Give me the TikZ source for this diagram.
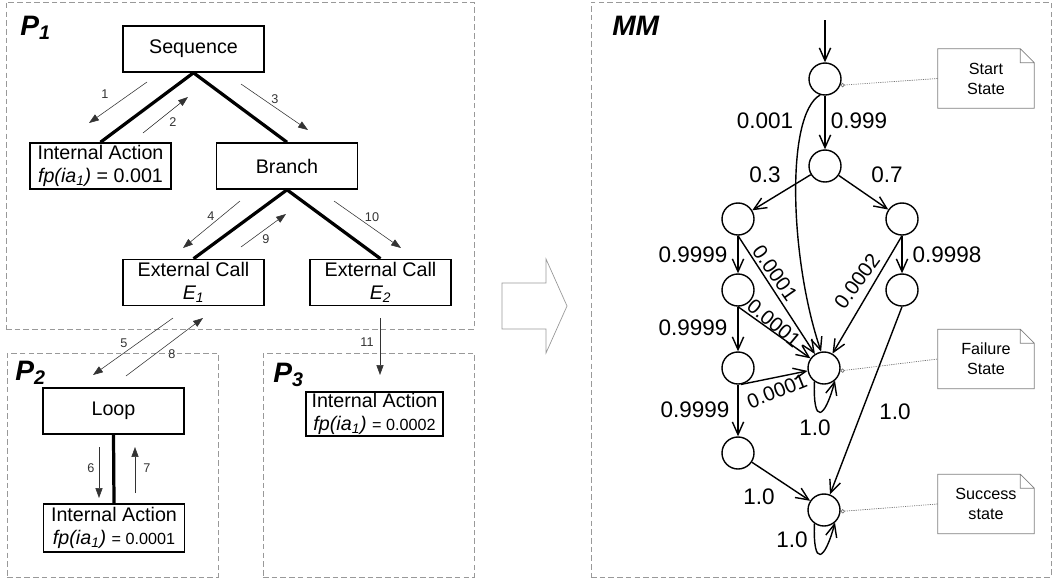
\documentclass[tikz,border=0pt]{standalone}
\usepackage{fontspec}
\setmainfont{Liberation Sans}
\usetikzlibrary{arrows.meta}

\begin{document}
\begin{tikzpicture}[
  x=0.025cm, y=-0.025cm,
  font=\fontsize{14}{16}\selectfont,
  zona/.style={rectangle, draw=black!40, dash pattern=on 4pt off 2.2pt,
               line width=0.5pt, inner sep=0pt},
  caja/.style={rectangle, draw, line width=1.1pt, minimum width=3.525cm,
               minimum height=1.15cm, inner sep=0pt, align=center},
  rama/.style={line width=2.3pt},
  flow/.style={-{Triangle[length=7pt,width=5pt]}, line width=0.4pt, black!80},
  num/.style={font=\fontsize{9}{10}\selectfont, inner sep=1pt},
  plab/.style={font=\fontsize{20}{22}\selectfont\bfseries\itshape,
               anchor=base west, inner sep=0pt},
  state/.style={circle, draw, line width=1pt, minimum size=0.8cm, inner sep=0pt},
  trans/.style={-{Straight Barb[length=9pt,width=8pt]}, line width=1pt},
  prob/.style={font=\fontsize{16}{18}\selectfont, inner sep=1pt},
  rprob/.style={font=\fontsize{14.5}{16}\selectfont, inner sep=0pt},
  nota/.style={minimum width=2.4cm, minimum height=1.475cm, inner sep=0pt,
               align=center, font=\fontsize{11.5}{14.2}\selectfont},
  pin/.style={{Circle[open,length=3pt]}-, black!55, line width=0.5pt,
              dash pattern=on 0.8pt off 0.8pt},
  doblez/.style={black!50, line width=0.5pt}
]
\useasboundingbox (0,0) rectangle (1052,579);

% --- P1 ---
\node[zona, minimum width=11.7cm, minimum height=8.175cm] (p1) at (240,165.5) {};
\node[plab] (p1lab) at (20,35) {P\textsubscript{1}};
\node[caja] (seq) at (193.5,49) {Sequence};
\node[caja] (ia1) at (100.5,166) {Internal Action\\\textit{fp(ia\textsubscript{1})} = 0.001};
\node[caja] (br) at (287,166) {Branch};
\node[caja] (ec1) at (193.5,282.5) {External Call\\\textit{E\textsubscript{1}}};
\node[caja] (ec2) at (380.5,282.5) {External Call\\\textit{E\textsubscript{2}}};
\draw[rama] (seq.south) -- (ia1.north);
\draw[rama] (seq.south) -- (br.north);
\draw[rama] (br.south) -- (ec1.north);
\draw[rama] (br.south) -- (ec2.north);

% --- P2 ---
\node[zona, minimum width=5.275cm, minimum height=5.6cm] (p2) at (112.5,465) {};
\node[plab] (p2lab) at (15,380) {P\textsubscript{2}};
\node[caja] (lp) at (113.5,411) {Loop};
\node[caja, minimum height=1.2cm] (ia2) at (114,528)
      {Internal Action\\\textit{fp(ia\textsubscript{1})} {\fontsize{11.5}{16}\selectfont = 0.0001}};
\draw[rama] (lp.south) -- (ia2.north);

% --- P3 ---
\node[zona, minimum width=5.275cm, minimum height=5.6cm] (p3) at (368.5,465) {};
\node[plab] (p3lab) at (273,382) {P\textsubscript{3}};
\node[caja, minimum width=3.425cm, minimum height=1.1cm] (ia3) at (374.5,414)
      {Internal Action\\\textit{fp(ia\textsubscript{1})} {\fontsize{11.5}{16}\selectfont = 0.0002}};

% --- llamadas y retornos ---
\coordinate (m1a) at (147,82);   \coordinate (m1b) at (89,123);
\coordinate (m2a) at (143,133);  \coordinate (m2b) at (188,97);
\coordinate (m3a) at (241,84);   \coordinate (m3b) at (308,130);
\coordinate (m4a) at (240,201);  \coordinate (m4b) at (183,248);
\coordinate (m5a) at (173,318);  \coordinate (m5b) at (93,375);
\coordinate (m6a) at (99,447);   \coordinate (m6b) at (99,498);
\coordinate (m7a) at (135,493);  \coordinate (m7b) at (135,447);
\coordinate (m8a) at (126,376);  \coordinate (m8b) at (203,318);
\coordinate (m9a) at (241,247);  \coordinate (m9b) at (286,214);
\coordinate (m10a) at (334,201); \coordinate (m10b) at (401,248);
\coordinate (m11a) at (380,318); \coordinate (m11b) at (380,375);
\draw[flow] (m1a) -- (m1b) node[num] at (105,94) {1};
\draw[flow] (m2a) -- (m2b) node[num] at (173,122) {2};
\draw[flow] (m3a) -- (m3b) node[num] at (275,99) {3};
\draw[flow] (m4a) -- (m4b) node[num] at (211,216) {4};
\draw[flow] (m5a) -- (m5b) node[num] at (124,343) {5};
\draw[flow] (m6a) -- (m6b) node[num] at (91,468) {6};
\draw[flow] (m7a) -- (m7b) node[num] at (147,468) {7};
\draw[flow] (m8a) -- (m8b) node[num] at (172,354) {8};
\draw[flow] (m9a) -- (m9b) node[num] at (266,239) {9};
\draw[flow] (m10a) -- (m10b) node[num] at (372,217) {10};
\draw[flow] (m11a) -- (m11b) node[num] at (367,342) {11};

% --- transformacion ---
\draw[black!40, line width=0.5pt] (502,283) -- (546,283) -- (546,259) -- (567,306)
      -- (546,353) -- (546,329) -- (502,329) -- cycle;

% --- MM ---
\node[zona, minimum width=11.5cm, minimum height=14.375cm] (mm) at (821,289.5) {};
\node[plab] (mmlab) at (612,35) {MM};
\node[state] (s0) at (825,79) {};
\node[state] (s1) at (825,166) {};
\node[state] (s2) at (738,219) {};
\node[state] (s3) at (902,219) {};
\node[state] (s4) at (738,290) {};
\node[state] (s5) at (902,290) {};
\node[state] (s6) at (738,368) {};
\node[state] (fail) at (824,368) {};
\node[state] (s7) at (738,453) {};
\node[state] (succ) at (824,510) {};
\coordinate (init) at (825,20);

\draw[trans] (init) -- (s0);
\draw[trans] (s0) -- (s1);
\draw[trans] (s0.253) .. controls (785,115) and (790,260) .. (fail.100);
\draw[trans] (s1) -- (s2);
\draw[trans] (s1) -- (s3);
\draw[trans] (s2.south) -- (s4.north);
\draw[trans] (s2.south) -- (fail);
\draw[trans] (s3.south) -- (s5.north);
\draw[trans] (s3.south) -- (fail);
\draw[trans] (s4.south) -- (s6.north);
\draw[trans] (s4.south) -- (fail);
\draw[trans] (s6.south) -- (s7.north);
\draw[trans] (s6.-80) -- (fail.190);
\draw[trans] (s5.south) -- (succ);
\draw[trans] (s7) -- (succ);
\draw[trans] (fail.235) .. controls +(268:1.1cm) and +(255:1cm) .. (fail.311);
\draw[trans] (succ.235) .. controls +(268:1.1cm) and +(255:1cm) .. (succ.311);

\node[prob] (l1) at (765,121) {0.001};
\node[prob] (l2) at (859,121) {0.999};
\node[prob] (l3) at (765,175) {0.3};
\node[prob] (l4) at (887,175) {0.7};
\node[prob] (l5) at (693,255) {0.9999};
\node[prob] (l6) at (947,255) {0.9998};
\node[prob] (l7) at (693,328) {0.9999};
\node[prob] (l8) at (695,410) {0.9999};
\node[prob] (l9) at (815,428) {1.0};
\node[prob] (l10) at (895,412) {1.0};
\node[prob] (l11) at (759,497) {1.0};
\node[prob] (l12) at (792,540) {1.0};
\node[rprob, rotate=-55] (r1) at (775,273) {0.0001};
\node[rprob, rotate=54] (r2) at (857,281) {0.0002};
\node[rprob, rotate=-40] (r3) at (774,323) {0.0001};
\node[rprob, rotate=22] (r4) at (777,391) {0.0001};

% --- notas ---
\node[nota] (nstart) at (986,78.5) {Start\\State};
\node[nota] (nfail) at (986,359) {Failure\\State};
\node[nota] (nsucc) at (986,504) {Success\\state};
\draw[doblez] (nstart.south west) -- (nstart.north west) -- ([xshift=-0.35cm]nstart.north east)
      -- ([yshift=-0.35cm]nstart.north east) -- (nstart.south east) -- cycle
      ([xshift=-0.35cm]nstart.north east) -- ++(0,14) -- ([yshift=-0.35cm]nstart.north east);
\draw[doblez] (nfail.south west) -- (nfail.north west) -- ([xshift=-0.35cm]nfail.north east)
      -- ([yshift=-0.35cm]nfail.north east) -- (nfail.south east) -- cycle
      ([xshift=-0.35cm]nfail.north east) -- ++(0,14) -- ([yshift=-0.35cm]nfail.north east);
\draw[doblez] (nsucc.south west) -- (nsucc.north west) -- ([xshift=-0.35cm]nsucc.north east)
      -- ([yshift=-0.35cm]nsucc.north east) -- (nsucc.south east) -- cycle
      ([xshift=-0.35cm]nsucc.north east) -- ++(0,14) -- ([yshift=-0.35cm]nsucc.north east);
\draw[pin] (s0.-22) -- (nstart.west);
\draw[pin] (fail.-10) -- (nfail.west);
\draw[pin] (succ.-5) -- (nsucc.west);

\end{tikzpicture}
\end{document}
